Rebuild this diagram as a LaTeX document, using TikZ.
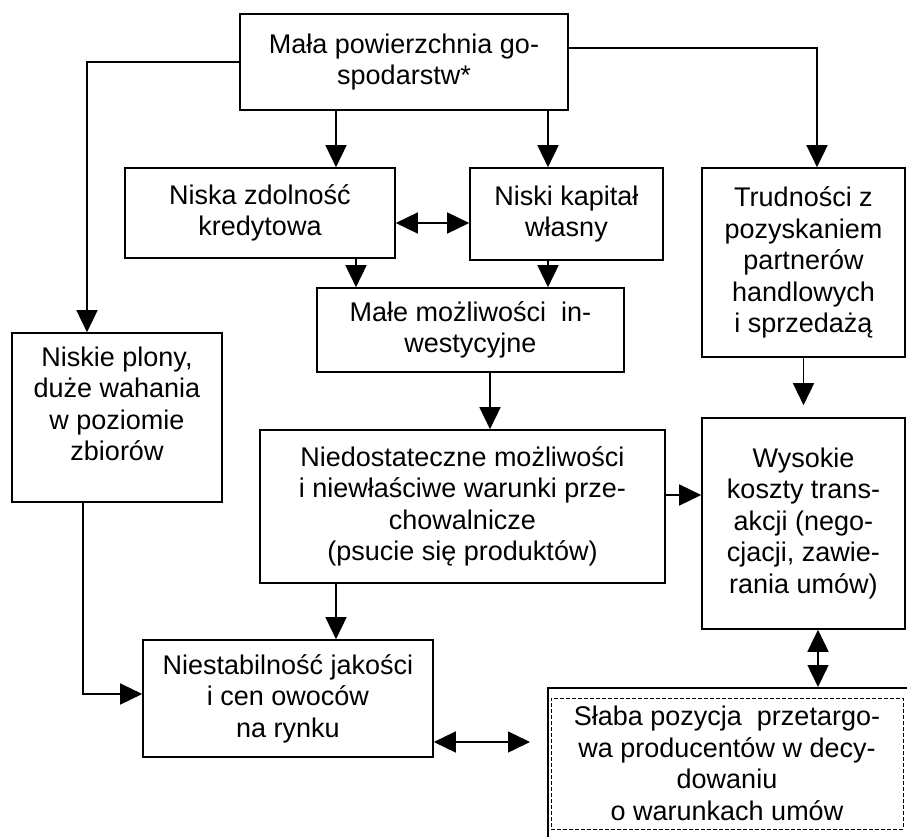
\documentclass[tikz,border=0pt]{standalone}
\usepackage{fontspec}
\setmainfont{Liberation Sans}
\usetikzlibrary{arrows.meta}
\begin{document}
\begin{tikzpicture}[x=1pt,y=1pt,
  box/.style={draw, line width=1.6pt, align=center, inner sep=0pt,
    font=\fontsize{27}{31.5}\selectfont},
  arr/.style={line width=1.5pt, -{Triangle[length=22pt,width=21pt]}},
  darr/.style={line width=1.5pt, {Triangle[length=22pt,width=21pt]}-{Triangle[length=22pt,width=21pt]}},
  dashbox/.style={draw, line width=0.9pt, dash pattern=on 4pt off 2pt, align=center, inner sep=0pt,
    font=\fontsize{27}{31.5}\selectfont}]
\useasboundingbox (0,0) rectangle (907,-837);
\fill[white] (0,0) rectangle (907,-837);
\clip (0,0) rectangle (907,-837);

% x / y guide coordinates for connectors
\coordinate (xA) at (336,0);
\coordinate (xB) at (548,0);
\coordinate (xC) at (356,0);
\coordinate (xD) at (490,0);
\coordinate (xF) at (817,0);
\coordinate (xH) at (818,0);
\coordinate (xL) at (87,0);
\coordinate (xM) at (83,0);
\coordinate (yA) at (0,-223);
\coordinate (yB) at (0,-495);
\coordinate (yC) at (0,-742);
\coordinate (yD) at (0,-694);
\coordinate (yE) at (0,-48);

% boxes
\node[box, minimum width=328pt, minimum height=96pt] (top) at (404,-62)
  {Mała powierzchnia go-\\spodarstw*};
\node[box, minimum width=270pt, minimum height=90pt] (nzk) at (260,-213)
  {Niska zdolność\\kredytowa};
\node[box, minimum width=193pt, minimum height=92pt] (nkw) at (566.5,-214)
  {Niski kapitał\\własny};
\node[box, minimum width=203pt, minimum height=189pt] (tr) at (803.5,-262.5)
  {Trudności z\\pozyskaniem\\partnerów\\handlowych\\i sprzedażą};
\node[box, minimum width=307pt, minimum height=84pt] (mmi) at (470.5,-330)
  {Małe możliwości\ \ in-\\westycyjne};
\node[box, minimum width=210pt, minimum height=169pt] (np) at (117,-417.5)
  {Niskie plony,\\duże wahania\\w poziomie\\zbiorów\\[-4pt]};
\node[box, minimum width=405pt, minimum height=153pt] (nd) at (462.5,-506.5)
  {Niedostateczne możliwości\\i niewłaściwe warunki prze-\\chowalnicze\\(psucie się produktów)};
\node[box, minimum width=203pt, minimum height=211pt] (wk) at (803.5,-523.5)
  {Wysokie\\koszty trans-\\akcji (nego-\\cjacji, zawie-\\rania umów)};
\node[box, minimum width=290pt, minimum height=117pt] (ns) at (288,-698.5)
  {Niestabilność jakości\\i cen owoców\\na rynku};
\node[draw, line width=1.6pt, inner sep=0pt, minimum width=400pt, minimum height=200pt,
  anchor=north west] (spo) at (547,-687) {};
\node[dashbox, minimum width=352pt, minimum height=131pt] (sp) at (727,-763.5)
  {Słaba pozycja\ \ przetargo-\\wa producentów w decy-\\dowaniu\\o warunkach umów};

% connectors
\draw[arr] (top.west) -| (np.north -| xL);
\draw[arr] (top.east |- yE) -| (tr.north -| xF);
\draw[arr] (top.south -| xA) -- (nzk.north -| xA);
\draw[arr] (top.south -| xB) -- (nkw.north -| xB);
\draw[darr] (nzk.east |- yA) -- (nkw.west |- yA);
\draw[arr] (nzk.south -| xC) -- (mmi.north -| xC);
\draw[arr] (nkw.south -| xB) -- (mmi.north -| xB);
\draw[arr] (mmi.south -| xD) -- (nd.north -| xD);
\draw[arr, shorten >=12pt] (tr.south) -- (wk.north);
\draw[arr] (nd.east |- yB) -- (wk.west |- yB);
\draw[darr] (wk.south -| xH) -- (spo.north -| xH);
\draw[arr] (nd.south -| xA) -- (ns.north -| xA);
\draw[arr] (np.south -| xM) |- (ns.west |- yD);
\draw[darr, shorten >=17pt] (ns.east |- yC) -- (spo.west |- yC);
\end{tikzpicture}
\end{document}
